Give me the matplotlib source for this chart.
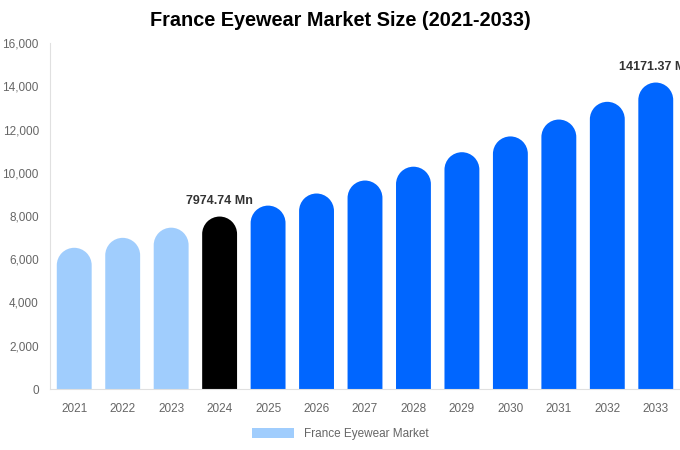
import matplotlib.pyplot as plt
from matplotlib.patches import PathPatch, Patch
from matplotlib.path import Path

plt.rcParams['font.family'] = ['Liberation Sans', 'DejaVu Sans']

# данные
years = ['2021', '2022', '2023', '2024', '2025', '2026', '2027',
         '2028', '2029', '2030', '2031', '2032', '2033']
values = [6530, 6990, 7460, 7974.74, 8480, 9040, 9640,
          10280, 10950, 11680, 12460, 13280, 14171.37]
colors = ['#a0cdfd'] * 3 + ['#000000'] + ['#0066ff'] * 9
labels = {3: '7974.74 Mn', 12: '14171.37 Mn'}

fig = plt.figure(figsize=(6.8, 4.5), dpi=100)
ax = fig.add_axes([50 / 680, 61 / 450, 630 / 680, 346 / 450])
ax.set_xlim(-0.5, len(years) - 0.5)
ax.set_ylim(0, 16000)

bar_w = 0.72
hw = bar_w / 2
# радиус скругления в единицах данных
px_x = 630 / len(years)
r_px = bar_w * px_x / 2
r_data = r_px * 16000 / 346
arc = Path.arc(0, 180)


def rounded_bar(x, v):
    top = v - r_data
    verts = [(x - hw, 0), (x + hw, 0), (x + hw, top)]
    codes = [Path.MOVETO, Path.LINETO, Path.LINETO]
    for (ux, uy), cd in list(zip(arc.vertices, arc.codes))[1:]:
        verts.append((x + hw * ux, top + r_data * uy))
        codes.append(cd)
    verts.append((x - hw, 0))
    codes.append(Path.CLOSEPOLY)
    return Path(verts, codes)


for i, (v, c) in enumerate(zip(values, colors)):
    ax.add_patch(PathPatch(rounded_bar(i, v), facecolor=c, edgecolor='none'))
    if i in labels:
        ax.annotate(labels[i], (i, v), xytext=(0, 11), textcoords='offset points',
                    ha='center', va='center', fontsize=9, fontweight='bold',
                    color='#333333', annotation_clip=False)

ax.set_xticks(range(len(years)))
ax.set_xticklabels(years)
ax.set_yticks(range(0, 16001, 2000))
ax.set_yticklabels([f'{t:,}' for t in range(0, 16001, 2000)])
ax.tick_params(length=0, labelsize=8.5, colors='#666666')
ax.tick_params(axis='x', pad=10)
ax.tick_params(axis='y', pad=8)
for s in ['top', 'right']:
    ax.spines[s].set_visible(False)
for s in ['left', 'bottom']:
    ax.spines[s].set_color('#e0e0e0')

fig.suptitle('France Eyewear Market Size (2021-2033)', fontsize=14.3,
             fontweight='bold', y=0.975)
fig.legend(handles=[Patch(facecolor='#a0cdfd', label='France Eyewear Market')],
           loc='center', bbox_to_anchor=(0.5, 0.036), frameon=False,
           fontsize=8.5, labelcolor='#666666', handlelength=3.6, handleheight=0.9)

fig.savefig('out.png', dpi=100)
